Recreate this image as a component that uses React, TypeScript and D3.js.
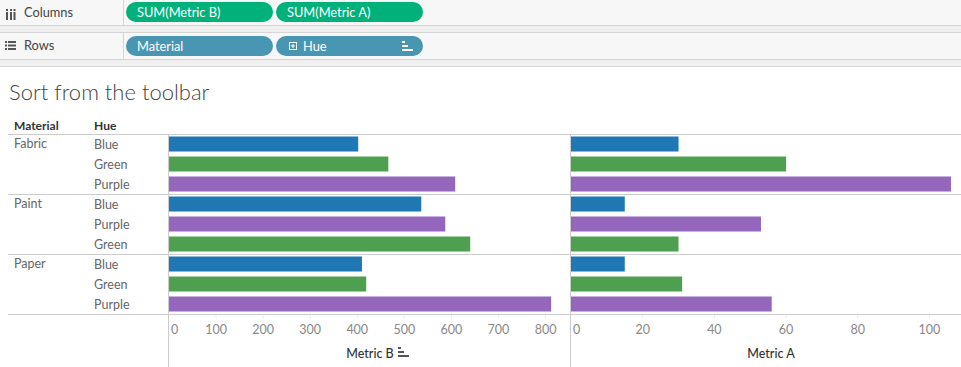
import { useEffect, useRef } from 'react';
import * as d3 from 'd3';

const materials = ['Fabric', 'Paint', 'Paper'];
const hues = [
  ['Blue', 'Green', 'Purple'],
  ['Blue', 'Purple', 'Green'],
  ['Blue', 'Green', 'Purple'],
];
const metricB = [
  [402, 466, 608],
  [536, 587, 640],
  [410, 419, 812],
];
const metricA = [
  [30, 60, 106],
  [15, 53, 30],
  [15, 31, 56],
];
const ticksB = [0, 100, 200, 300, 400, 500, 600, 700, 800];
const ticksA = [0, 20, 40, 60, 80, 100];
const hueColors: Record<string, string> = { Blue: '#1f77b4', Green: '#4f9f50', Purple: '#9467bd' };

const FONT = 'Lato, "Open Sans", sans-serif';

export default function App() {
  const svgRef = useRef<SVGSVGElement>(null);

  useEffect(() => {
    const svg = d3.select(svgRef.current);
    svg.selectAll('*').remove();
    const width = 961;
    const height = 367;

    const rows = materials.flatMap((m, i) =>
      hues[i].map((h, j) => ({ key: `${m}-${h}`, material: m, hue: h, b: metricB[i][j], a: metricA[i][j], first: j === 0 }))
    );

    const top = 134;
    const bottom = top + rows.length * 20;
    const y = d3.scaleBand().domain(rows.map((r) => r.key)).range([top, bottom]).paddingInner(0.25).paddingOuter(0.125);
    const xB = d3.scaleLinear().domain([0, 852]).range([169, 570]);
    const xA = d3.scaleLinear().domain([0, 108.8]).range([571, 961]);

    // toolbar
    svg.append('rect').attr('width', width).attr('height', 66).attr('fill', '#f7f7f7');
    svg.append('rect').attr('y', 25).attr('width', width).attr('height', 7).attr('fill', '#f0f0f0');
    svg.append('rect').attr('y', 59).attr('width', width).attr('height', 7).attr('fill', '#f0f0f0');
    [25.5, 32.5, 59.5, 66.5].forEach((yy) =>
      svg.append('line').attr('x1', 0).attr('x2', width).attr('y1', yy).attr('y2', yy).attr('stroke', '#d6d6d6')
    );
    [[0, 25], [32, 59]].forEach(([y1, y2]) =>
      svg.append('line').attr('x1', 123.5).attr('x2', 123.5).attr('y1', y1).attr('y2', y2).attr('stroke', '#d6d6d6')
    );

    // columns icon
    [6, 10, 13.5].forEach((x) => {
      svg.append('rect').attr('x', x).attr('y', 9).attr('width', 2).attr('height', 2).attr('fill', '#555');
      svg.append('rect').attr('x', x).attr('y', 12).attr('width', 2).attr('height', 8).attr('fill', '#555');
    });
    // rows icon
    [42, 45.5, 49].forEach((yy) => {
      svg.append('rect').attr('x', 5).attr('y', yy - 1).attr('width', 2).attr('height', 2).attr('fill', '#555');
      svg.append('rect').attr('x', 8).attr('y', yy - 1).attr('width', 8).attr('height', 2).attr('fill', '#555');
    });
    svg.append('text').attr('x', 24).attr('y', 16.5).text('Columns');
    svg.append('text').attr('x', 24).attr('y', 50).text('Rows');
    svg.selectAll('text').attr('font-size', 12.8).attr('fill', '#444').attr('font-family', FONT);

    const pills = [
      { x: 126, y: 2, label: 'SUM(Metric B)', color: '#00b17a', tx: 137 },
      { x: 276, y: 2, label: 'SUM(Metric A)', color: '#00b17a', tx: 287 },
      { x: 126, y: 36, label: 'Material', color: '#4996b2', tx: 137 },
      { x: 276, y: 36, label: 'Hue', color: '#4996b2', tx: 303 },
    ];
    pills.forEach((p) => {
      svg.append('rect').attr('x', p.x).attr('y', p.y).attr('width', 147).attr('height', 20).attr('rx', 10).attr('fill', p.color);
      svg.append('text').attr('x', p.tx).attr('y', p.y + 14.5).attr('fill', '#fff').attr('font-size', 12.8).attr('font-family', FONT).text(p.label);
    });
    // plus box in Hue pill
    svg.append('rect').attr('x', 289.5).attr('y', 42.5).attr('width', 7).attr('height', 7).attr('fill', 'none').attr('stroke', '#fff');
    svg.append('line').attr('x1', 291).attr('x2', 295).attr('y1', 46).attr('y2', 46).attr('stroke', '#fff');
    svg.append('line').attr('x1', 293).attr('x2', 293).attr('y1', 44).attr('y2', 48).attr('stroke', '#fff');
    const sortIcon = (x: number, yy: number, color: string) => {
      [[3, 0], [6, 4], [11, 8]].forEach(([w, dy]) =>
        svg.append('rect').attr('x', x).attr('y', yy + dy).attr('width', w).attr('height', 2).attr('fill', color)
      );
    };
    sortIcon(402, 41, '#fff');

    // title
    svg.append('text').attr('x', 9).attr('y', 99.5).attr('font-size', 22).attr('font-weight', 300)
      .attr('fill', '#444').attr('font-family', FONT).text('Sort from the toolbar');

    // headers
    svg.append('text').attr('x', 14).attr('y', 130).attr('font-size', 12).attr('font-weight', 'bold').attr('fill', '#333').attr('font-family', FONT).text('Material');
    svg.append('text').attr('x', 94).attr('y', 130).attr('font-size', 12).attr('font-weight', 'bold').attr('fill', '#333').attr('font-family', FONT).text('Hue');

    // bars
    const g = svg.append('g');
    g.selectAll('.barB').data(rows).enter().append('rect')
      .attr('x', xB(0)).attr('y', (d) => y(d.key)!).attr('width', (d) => xB(d.b) - xB(0)).attr('height', y.bandwidth())
      .attr('fill', (d) => hueColors[d.hue]);
    g.selectAll('.barA').data(rows).enter().append('rect')
      .attr('x', xA(0)).attr('y', (d) => y(d.key)!).attr('width', (d) => xA(d.a) - xA(0)).attr('height', y.bandwidth())
      .attr('fill', (d) => hueColors[d.hue]);

    // row labels
    const lab = svg.append('g').attr('font-family', FONT).attr('font-size', 12.5).attr('fill', '#666');
    rows.forEach((r) => {
      const cy = y(r.key)! + y.bandwidth() / 2 + 4.5;
      if (r.first) lab.append('text').attr('x', 14).attr('y', cy - 1).text(r.material);
      lab.append('text').attr('x', 94).attr('y', cy).text(r.hue);
    });

    // grid lines
    const sep = [top, ...materials.map((_, i) => top + (i + 1) * 60)];
    sep.forEach((yy) =>
      svg.append('line').attr('x1', 8).attr('x2', width).attr('y1', yy + 0.5).attr('y2', yy + 0.5).attr('stroke', '#cccccc')
    );
    [168.5, 570.5].forEach((xx) =>
      svg.append('line').attr('x1', xx).attr('x2', xx).attr('y1', top).attr('y2', height).attr('stroke', '#cccccc')
    );

    // axes
    const axisG = svg.append('g').attr('font-family', FONT).attr('font-size', 12.5).attr('fill', '#888');
    const drawAxis = (scale: d3.ScaleLinear<number, number>, ticks: number[]) => {
      ticks.forEach((t, i) => {
        const x = scale(t);
        if (i > 0) axisG.append('line').attr('x1', x).attr('x2', x).attr('y1', bottom + 1).attr('y2', bottom + 5).attr('stroke', '#eeeeee');
        axisG.append('text').attr('x', i === 0 ? x + 2 : x).attr('y', 334)
          .attr('text-anchor', i === 0 ? 'start' : 'middle').text(String(t));
      });
    };
    drawAxis(xB, ticksB);
    drawAxis(xA, ticksA);

    svg.append('text').attr('x', 370).attr('y', 358).attr('text-anchor', 'middle').attr('font-size', 12.5)
      .attr('font-weight', 500).attr('fill', '#333').attr('font-family', FONT).text('Metric B');
    sortIcon(398, 347, '#555');
    svg.append('text').attr('x', 771).attr('y', 358).attr('text-anchor', 'middle').attr('font-size', 12.5)
      .attr('font-weight', 500).attr('fill', '#333').attr('font-family', FONT).text('Metric A');
  }, []);

  return (
    <div style={{ position: 'fixed', left: 0, top: 0, width: 961, height: 367, background: '#fff' }}>
      <svg ref={svgRef} width={961} height={367} style={{ display: 'block' }} />
    </div>
  );
}
